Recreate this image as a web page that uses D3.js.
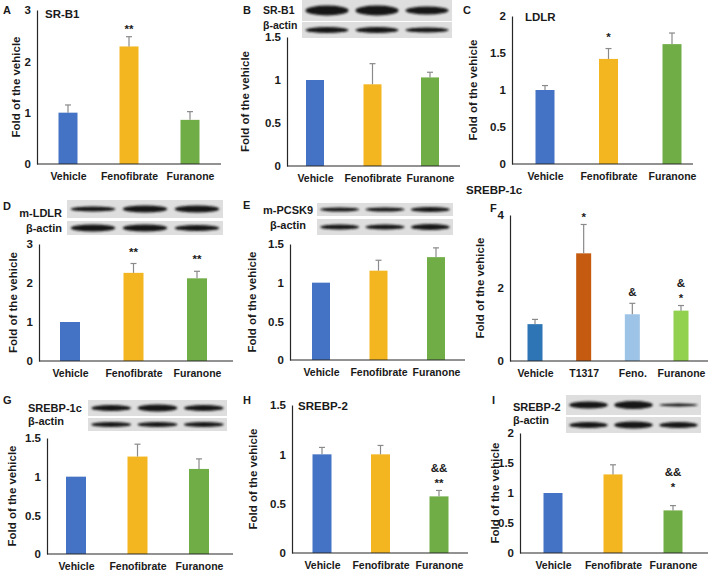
<!DOCTYPE html>
<html><head><meta charset="utf-8">
<script src="https://cdn.jsdelivr.net/npm/d3@7"></script>
<style>
body{margin:0;background:#fff}
text{font-family:"Liberation Sans",Arial,sans-serif;font-weight:bold;fill:#1a1a1a}
</style>
</head><body>
<svg id="c" width="709" height="573"></svg>
<script>
// ---------- data ----------
const catsMain = ["Vehicle", "Fenofibrate", "Furanone"];
const catsF = ["Vehicle", "T1317", "Feno.", "Furanone"];

const valsA = [1.0, 2.29, 0.86];  const errA = [0.15, 0.19, 0.16];  const sigA = [[], ["**"], []];
const valsB = [1.0, 0.95, 1.03];  const errB = [0, 0.24, 0.06];     const sigB = [[], [], []];
const valsC = [1.0, 1.42, 1.62];  const errC = [0.06, 0.14, 0.15];  const sigC = [[], ["*"], []];
const valsD = [1.0, 2.26, 2.12];  const errD = [0, 0.24, 0.18];     const sigD = [[], ["**"], ["**"]];
const valsE = [1.0, 1.155, 1.33]; const errE = [0, 0.135, 0.12];    const sigE = [[], [], []];
const valsF = [1.01, 2.95, 1.28, 1.38]; const errF = [0.13, 0.79, 0.30, 0.14]; const sigF = [[], ["*"], ["&"], ["&", "*"]];
const valsG = [1.0, 1.26, 1.10];  const errG = [0, 0.16, 0.13];     const sigG = [[], [], []];
const valsH = [1.0, 1.0, 0.574];  const errH = [0.07, 0.09, 0.06];  const sigH = [[], [], ["&&", "**"]];
const valsI = [1.0, 1.31, 0.71];  const errI = [0, 0.16, 0.08];     const sigI = [[], [], ["&&", "*"]];

const ticks3 = [0, 1, 2, 3];
const ticks15 = [0, 0.5, 1, 1.5];
const ticks2 = [0, 0.5, 1, 1.5, 2];
const ticks4 = [0, 2, 4];

const colMain = ["#4472C4", "#F3B620", "#70AD47"];
const colF = ["#2E75B6", "#C55A11", "#9DC3E6", "#92D050"];

// blot band strengths (px thickness per lane)
const blotB1 = [10, 10, 8], blotBa = [6, 6, 5];
const blotD1 = [5, 7, 7],   blotDa = [7, 7, 6];
const blotE1 = [4, 4, 5],   blotEa = [5, 5, 6];
const blotG1 = [6, 7, 6],   blotGa = [5, 5, 5];
const blotI1 = [7, 8, 3],   blotIa = [6, 7, 6];

// ---------- layout ----------
const panels = [
 {L:"A", lp:[3,10], title:"SR-B1", tp:[45,14], cats:catsMain, vals:valsA, errs:errA, sig:sigA, col:colMain,
  ax:[37,221], cx:[68,190], dom:[0,3], rng:[164,10], ticks:ticks3, bw:19, ylx:16, gap:11},
 {L:"B", lp:[243,10], cats:catsMain, vals:valsB, errs:errB, sig:sigB, col:colMain,
  ax:[287,460], cx:[315,430], dom:[0,1.5], rng:[166,37], ticks:ticks15, bw:18, ylx:245, gap:11,
  blot:{x:[302,452], lx:263, anchor:"start", fs:10.5, rows:[
    {name:"SR-B1", y:[0,21], ly:10, t:blotB1},
    {name:"β-actin", y:[22,38], ly:25, t:blotBa}]}},
 {L:"C", lp:[463,10], title:"LDLR", tp:[525,17], cats:catsMain, vals:valsC, errs:errC, sig:sigC, col:colMain,
  ax:[512,693], cx:[545,672], dom:[0,2], rng:[164,16], ticks:ticks2, bw:19, ylx:473, gap:15},
 {L:"D", lp:[3,206], cats:catsMain, vals:valsD, errs:errD, sig:sigD, col:colMain,
  ax:[39,233], cx:[70,197], dom:[0,3], rng:[361,244], ticks:ticks3, bw:20, ylx:13, gap:15,
  blot:{x:[67,223], lx:62, anchor:"end", fs:11, rows:[
    {name:"m-LDLR", y:[200,218], ly:213, t:blotD1},
    {name:"β-actin", y:[221,235], ly:228, t:blotDa}]}},
 {L:"E", lp:[243,205], cats:catsMain, vals:valsE, errs:errE, sig:sigE, col:colMain,
  ax:[290,465], cx:[321,436], dom:[0,1.5], rng:[360,244], ticks:ticks15, bw:18, ylx:252, gap:11,
  blot:{x:[317,453], lx:288, anchor:"middle", fs:11, rows:[
    {name:"m-PCSK9", y:[203,216], ly:210, t:blotE1},
    {name:"β-actin", y:[219,235], ly:225, t:blotEa}]}},
 {L:"F", lp:[490,208], title:"SREBP-1c", tp:[466,190], cats:catsF, vals:valsF, errs:errF, sig:sigF, col:colF,
  ax:[510,708], cx:[535,681], dom:[0,4], rng:[361,215], ticks:ticks4, bw:15, ylx:480, gap:11},
 {L:"G", lp:[3,400], cats:catsMain, vals:valsG, errs:errG, sig:sigG, col:colMain,
  ax:[47,233], cx:[76,199], dom:[0,1.5], rng:[554,438], ticks:ticks15, bw:20, ylx:12, gap:11,
  blot:{x:[88,227], lx:28, anchor:"start", fs:11, rows:[
    {name:"SREBP-1c", y:[400,416], ly:408, t:blotG1},
    {name:"β-actin", y:[418,431], ly:421, t:blotGa}]}},
 {L:"H", lp:[243,400], title:"SREBP-2", tp:[298,406], cats:catsMain, vals:valsH, errs:errH, sig:sigH, col:colMain,
  ax:[292,468], cx:[322,439], dom:[0,1.5], rng:[553,405], ticks:ticks15, bw:19, ylx:253, gap:11},
 {L:"I", lp:[492,400], cats:catsMain, vals:valsI, errs:errI, sig:sigI, col:colMain,
  ax:[520,708], cx:[553,673], dom:[0,2], rng:[553,433], ticks:ticks2, bw:19, ylx:495, gap:22,
  blot:{x:[566,701], lx:513, anchor:"start", fs:11, rows:[
    {name:"SREBP-2", y:[395,415], ly:407, t:blotI1},
    {name:"β-actin", y:[417,433], ly:420, t:blotIa}]}}
];

const svg = d3.select("#c");
const defs = svg.append("defs");
defs.append("filter").attr("id","blur").attr("x","-20%").attr("y","-50%").attr("width","140%").attr("height","200%")
  .append("feGaussianBlur").attr("stdDeviation", 1.3);
defs.append("filter").attr("id","blur2").attr("x","-5%").attr("y","-5%").attr("width","110%").attr("height","110%")
  .append("feGaussianBlur").attr("stdDeviation", 0.6);

const AXC = "#262626";

panels.forEach(p => {
  const g = svg.append("g");
  const x = d3.scalePoint().domain(p.cats).range(p.cx);
  const y = d3.scaleLinear().domain(p.dom).range(p.rng);
  const base = y(0);

  // blot
  if (p.blot) {
    const b = p.blot, w = b.x[1] - b.x[0];
    b.rows.forEach(r => {
      g.append("rect").attr("x", b.x[0]).attr("y", r.y[0]).attr("width", w).attr("height", r.y[1]-r.y[0])
        .attr("fill", "#dedede").attr("filter","url(#blur2)");
      const bg = g.append("g").attr("filter","url(#blur)");
      r.t.forEach((t, i) => {
        const cx = b.x[0] + w*(i+0.5)/3;
        bg.append("ellipse").attr("cx", cx).attr("cy", (r.y[0]+r.y[1])/2)
          .attr("rx", w/3*0.43).attr("ry", t/2).attr("fill", "#141414");
      });
      g.append("text").attr("x", b.lx).attr("y", r.ly).attr("dy","0.35em")
        .attr("text-anchor", b.anchor).attr("font-size", b.fs).text(r.name);
    });
  }

  // bars
  g.selectAll(".bar").data(p.vals).join("rect")
    .attr("x", (d,i) => x(p.cats[i]) - p.bw/2).attr("y", d => y(d))
    .attr("width", p.bw).attr("height", d => base - y(d))
    .attr("fill", (d,i) => p.col[i]);

  // error bars
  p.vals.forEach((v,i) => {
    const e = p.errs[i]; if (!e) return;
    const cx = x(p.cats[i]);
    g.append("line").attr("x1",cx).attr("x2",cx).attr("y1",y(v)).attr("y2",y(v+e))
      .attr("stroke","#8a8a8a").attr("stroke-width",1.2);
    g.append("line").attr("x1",cx-3).attr("x2",cx+3).attr("y1",y(v+e)).attr("y2",y(v+e))
      .attr("stroke","#8a8a8a").attr("stroke-width",1.2);
  });

  // significance marks
  p.vals.forEach((v,i) => {
    const lines = p.sig[i]; if (!lines.length) return;
    const cx = x(p.cats[i]);
    const top = y(v + (p.errs[i]||0));
    lines.slice().reverse().forEach((s,k) => {
      const cy = top - p.gap - k*11.5;
      const fs = 11.5;
      const off = s.includes("*") ? 0.62*fs : 0.36*fs;
      g.append("text").attr("x", cx).attr("y", cy + off).attr("text-anchor","middle")
        .attr("font-size", fs).text(s);
    });
  });

  // y axis
  const ya = g.append("g").attr("transform", `translate(${p.ax[0]},0)`)
    .call(d3.axisLeft(y).tickValues(p.ticks).tickSize(0).tickSizeOuter(0).tickPadding(6).tickFormat(d => String(d)));
  ya.select(".domain").attr("stroke", AXC).attr("stroke-width",1.2);
  ya.selectAll("text").attr("font-size", 11.5).attr("font-family", null).style("fill","#1a1a1a");

  // x axis line
  g.append("line").attr("x1", p.ax[0]).attr("x2", p.ax[1]).attr("y1", base).attr("y2", base)
    .attr("stroke", AXC).attr("stroke-width", 1.2);
  const xa = g.append("g").attr("transform", `translate(0,${base})`)
    .call(d3.axisBottom(x).tickSize(0).tickPadding(9));
  xa.select(".domain").remove();
  xa.selectAll("text").attr("font-size", 10.5).attr("font-family", null).style("fill","#1a1a1a");

  // y title
  const ym = (p.rng[0] + p.rng[1]) / 2;
  g.append("text").attr("transform", `translate(${p.ylx},${ym}) rotate(-90)`)
    .attr("text-anchor","middle").attr("dy","0.35em").attr("font-size", 11.5).text("Fold of the vehicle");

  // panel letter & title
  g.append("text").attr("x", p.lp[0]).attr("y", p.lp[1]).attr("dy","0.35em").attr("font-size", 11).text(p.L);
  if (p.title) g.append("text").attr("x", p.tp[0]).attr("y", p.tp[1]).attr("dy","0.35em")
    .attr("font-size", 11.5).text(p.title);
});
</script>
</body></html>
